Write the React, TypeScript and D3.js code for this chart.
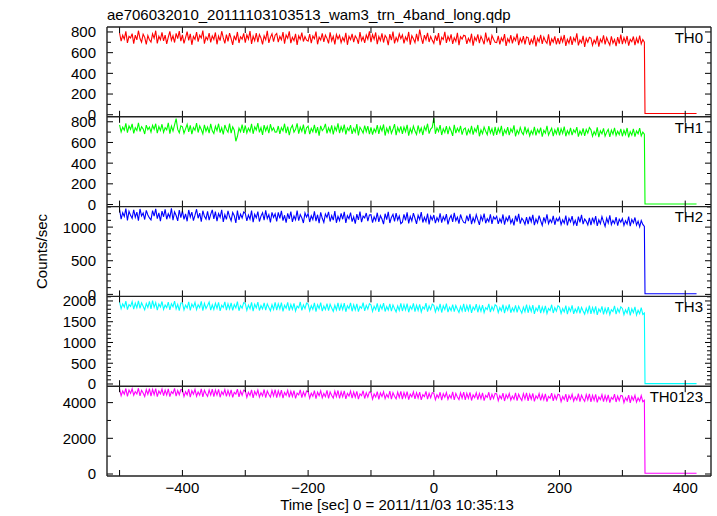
import * as d3 from "d3"

// light-curve bins (s), every 2.5 s from -500 to 335, then the post-drop tail
const binTimes = d3.range(-500, 336, 2.5)
const tailTimes = [336, 418]

const th0 = [
  790, 712, 768, 731, 805, 695, 757, 742, 784, 688, 770, 723, 812, 736, 701, 779, 748, 680, 766, 725,
  703, 781, 739, 812, 690, 758, 725, 796, 714, 770, 684, 749, 805, 720, 763, 698, 787, 736, 808, 711,
  771, 690, 745, 803, 718, 782, 676, 757, 729, 799, 706, 768, 741, 813, 687, 752, 724, 790, 700, 762,
  728, 795, 681, 760, 716, 807, 742, 689, 774, 710, 788, 735, 676, 765, 719, 800, 693, 754, 731, 786,
  697, 772, 730, 808, 684, 759, 715, 790, 702, 776, 741, 680, 763, 724, 811, 695, 748, 783, 706, 769,
  785, 701, 757, 724, 799, 687, 771, 738, 806, 692, 749, 716, 781, 675, 762, 729, 794, 708, 755, 721,
  712, 779, 693, 761, 734, 803, 681, 750, 722, 787, 704, 770, 738, 690, 797, 715, 758, 680, 775, 733,
  768, 697, 746, 712, 792, 676, 758, 725, 781, 701, 763, 738, 686, 799, 717, 752, 694, 771, 730, 806,
  701, 774, 729, 795, 683, 757, 716, 786, 698, 766, 741, 673, 779, 722, 804, 690, 747, 711, 782, 735,
  772, 689, 751, 718, 800, 678, 763, 734, 697, 781, 710, 823, 745, 686, 770, 725, 792, 703, 757, 719,
  690, 766, 713, 789, 672, 748, 727, 801, 695, 758, 718, 776, 684, 745, 709, 792, 673, 754, 731, 768,
  761, 684, 739, 705, 783, 667, 748, 716, 776, 692, 759, 724, 681, 794, 710, 742, 675, 766, 729, 701,
  698, 762, 681, 742, 711, 779, 665, 735, 703, 770, 689, 748, 716, 785, 672, 738, 700, 759, 680, 751,
  746, 674, 729, 693, 767, 660, 738, 705, 772, 684, 751, 712, 690, 776, 668, 733, 702, 758, 679, 741,
  683, 750, 704, 771, 665, 729, 692, 758, 676, 743, 710, 787, 671, 724, 696, 762, 655, 737, 701, 748,
  740, 671, 722, 690, 763, 658, 731, 699, 768, 680, 745, 706, 673, 757, 692, 728, 662, 751, 687, 774,
  682, 745, 698, 761, 667, 729, 705, 756, 673, 740, 690, 766, 684, 727, 701,
]
const th1 = [
  771, 702, 748, 719, 785, 694, 760, 727, 779, 688, 742, 715, 790, 706, 753, 731, 682, 768, 723, 749,
  700, 766, 728, 781, 691, 754, 715, 776, 697, 743, 722, 789, 685, 758, 710, 770, 830, 726, 694, 761,
  752, 689, 731, 776, 703, 765, 680, 744, 718, 787, 696, 759, 725, 683, 771, 709, 748, 690, 779, 713,
  687, 756, 714, 781, 695, 742, 677, 769, 725, 700, 783, 690, 751, 718, 612, 660, 738, 704, 772, 693,
  764, 692, 738, 706, 779, 684, 751, 720, 786, 697, 743, 674, 768, 711, 755, 689, 776, 715, 741, 700,
  701, 759, 683, 744, 712, 781, 690, 753, 671, 738, 766, 699, 727, 784, 686, 749, 708, 772, 680, 741,
  758, 681, 736, 703, 771, 690, 748, 666, 761, 715, 735, 779, 688, 742, 701, 766, 677, 750, 713, 784,
  690, 752, 709, 773, 678, 741, 715, 767, 683, 736, 700, 778, 669, 747, 720, 691, 763, 705, 758, 680,
  745, 676, 731, 700, 768, 683, 752, 712, 774, 667, 738, 696, 761, 688, 727, 778, 671, 744, 703, 756,
  683, 749, 704, 771, 666, 735, 692, 758, 710, 677, 764, 699, 741, 672, 753, 716, 781, 686, 729, 745,
  835, 684, 741, 705, 768, 672, 733, 696, 759, 680, 748, 713, 663, 771, 690, 737, 702, 760, 675, 728,
  740, 668, 727, 692, 761, 675, 735, 703, 769, 660, 722, 685, 748, 709, 676, 757, 690, 733, 666, 750,
  673, 737, 695, 760, 662, 724, 688, 749, 670, 732, 701, 766, 658, 719, 683, 745, 697, 676, 752, 690,
  731, 663, 712, 680, 751, 668, 726, 692, 744, 657, 718, 689, 760, 671, 707, 737, 662, 722, 683, 745,
  668, 733, 687, 754, 660, 715, 680, 741, 670, 722, 695, 748, 656, 711, 676, 737, 663, 726, 690, 745,
  722, 659, 705, 673, 745, 652, 713, 684, 736, 661, 698, 727, 655, 719, 680, 742, 667, 708, 675, 731,
  660, 718, 677, 740, 649, 705, 671, 731, 656, 712, 684, 738, 663, 700, 679,
]
const th2 = [
  1262, 1120, 1214, 1158, 1277, 1101, 1236, 1175, 1130, 1258, 1147, 1223, 1095, 1270, 1166, 1209, 1113, 1248, 1180, 1137,
  1108, 1246, 1162, 1271, 1125, 1213, 1090, 1238, 1154, 1265, 1117, 1199, 1143, 1280, 1102, 1227, 1172, 1093, 1254, 1140,
  1241, 1115, 1196, 1087, 1255, 1150, 1223, 1098, 1178, 1266, 1132, 1209, 1080, 1244, 1161, 1119, 1235, 1104, 1189, 1257,
  1123, 1230, 1089, 1201, 1146, 1258, 1078, 1185, 1114, 1242, 1153, 1095, 1219, 1170, 1062, 1247, 1108, 1193, 1135, 1224,
  1206, 1092, 1179, 1118, 1245, 1075, 1191, 1139, 1230, 1083, 1164, 1215, 1102, 1250, 1127, 1185, 1070, 1220, 1143, 1197,
  1085, 1219, 1130, 1241, 1097, 1176, 1068, 1205, 1123, 1232, 1079, 1166, 1110, 1244, 1095, 1187, 1138, 1061, 1210, 1149,
  1201, 1076, 1168, 1112, 1233, 1090, 1184, 1059, 1219, 1131, 1070, 1195, 1144, 1228, 1083, 1172, 1104, 1238, 1065, 1160,
  1098, 1205, 1117, 1227, 1063, 1170, 1126, 1216, 1081, 1154, 1051, 1193, 1108, 1230, 1074, 1162, 1137, 1210, 1089, 1181,
  1185, 1067, 1153, 1096, 1214, 1079, 1170, 1120, 1045, 1199, 1110, 1226, 1061, 1144, 1189, 1084, 1207, 1103, 1165, 1052,
  1073, 1190, 1101, 1218, 1056, 1159, 1093, 1207, 1132, 1048, 1176, 1114, 1222, 1068, 1146, 1083, 1201, 1041, 1163, 1107,
  1180, 1059, 1141, 1088, 1206, 1066, 1155, 1102, 1193, 1040, 1128, 1174, 1077, 1212, 1095, 1147, 1053, 1188, 1115, 1070,
  1061, 1172, 1090, 1196, 1043, 1139, 1075, 1184, 1107, 1034, 1165, 1097, 1201, 1057, 1126, 1082, 1190, 1049, 1153, 1118,
  1160, 1048, 1124, 1071, 1188, 1038, 1142, 1093, 1175, 1060, 1115, 1027, 1169, 1082, 1197, 1051, 1133, 1099, 1041, 1150,
  1043, 1157, 1080, 1183, 1030, 1121, 1062, 1172, 1095, 1025, 1146, 1074, 1190, 1052, 1113, 1068, 1166, 1035, 1128, 1090,
  1145, 1036, 1109, 1058, 1170, 1024, 1131, 1077, 1162, 1040, 1103, 1018, 1155, 1069, 1182, 1045, 1120, 1086, 1031, 1139,
  1030, 1141, 1064, 1163, 1017, 1108, 1052, 1156, 1079, 1012, 1132, 1060, 1175, 1038, 1100, 1055, 1150, 1021, 1117, 1073,
  1129, 1024, 1096, 1045, 1158, 1014, 1115, 1062, 1143, 1030, 1089, 1005, 1098, 1040, 1010,
]
const th3 = [
  1975, 1815, 1930, 1852, 1998, 1790, 1911, 1868, 1984, 1803, 1946, 1835, 2002, 1822, 1957, 1874, 1786, 1940, 1845, 1990,
  1810, 2010, 1847, 1962, 1779, 1925, 1856, 1987, 1798, 1903, 1840, 1971, 1785, 1934, 1862, 1995, 1808, 1918, 1770, 1950,
  1952, 1786, 1901, 1829, 1980, 1775, 1924, 1850, 1966, 1793, 1912, 1837, 1988, 1768, 1940, 1818, 1893, 1973, 1781, 1909,
  1795, 1946, 1822, 1968, 1760, 1897, 1843, 1979, 1778, 1930, 1809, 1955, 1771, 1915, 1836, 1986, 1764, 1888, 1826, 1960,
  1938, 1775, 1900, 1814, 1965, 1757, 1921, 1833, 1973, 1770, 1889, 1808, 1952, 1782, 1930, 1845, 1762, 1911, 1795, 1969,
  1781, 1933, 1808, 1958, 1750, 1896, 1826, 1964, 1766, 1915, 1797, 1943, 1759, 1878, 1832, 1975, 1771, 1905, 1814, 1947,
  1925, 1762, 1887, 1801, 1952, 1744, 1909, 1818, 1961, 1757, 1876, 1794, 1938, 1769, 1919, 1828, 1748, 1896, 1785, 1955,
  1770, 1921, 1792, 1946, 1740, 1883, 1815, 1953, 1752, 1906, 1784, 1930, 1745, 1868, 1821, 1960, 1759, 1894, 1803, 1937,
  1909, 1750, 1874, 1790, 1942, 1735, 1897, 1806, 1949, 1747, 1864, 1781, 1928, 1757, 1905, 1815, 1738, 1883, 1773, 1944,
  1758, 1907, 1782, 1934, 1728, 1871, 1800, 1940, 1741, 1893, 1770, 1918, 1735, 1856, 1808, 1948, 1745, 1880, 1790, 1925,
  1895, 1738, 1861, 1777, 1929, 1722, 1884, 1793, 1936, 1733, 1850, 1768, 1914, 1744, 1890, 1801, 1725, 1870, 1760, 1930,
  1740, 1891, 1765, 1920, 1712, 1856, 1786, 1925, 1728, 1878, 1755, 1902, 1719, 1840, 1792, 1932, 1731, 1865, 1774, 1909,
  1876, 1722, 1843, 1760, 1911, 1705, 1866, 1776, 1918, 1716, 1833, 1750, 1896, 1727, 1872, 1785, 1708, 1852, 1742, 1913,
  1716, 1869, 1745, 1898, 1690, 1832, 1765, 1903, 1705, 1855, 1734, 1880, 1698, 1818, 1770, 1909, 1710, 1842, 1753, 1886,
  1852, 1698, 1818, 1737, 1888, 1681, 1842, 1751, 1893, 1691, 1806, 1727, 1871, 1703, 1847, 1760, 1684, 1828, 1718, 1890,
  1690, 1840, 1716, 1868, 1663, 1806, 1738, 1872, 1677, 1826, 1707, 1851, 1670, 1790, 1745, 1880, 1683, 1815, 1726, 1858,
  1820, 1668, 1786, 1705, 1855, 1651, 1810, 1720, 1860, 1662, 1775, 1695, 1840, 1675, 1710,
]
const th0123 = [
  4760, 4390, 4650, 4470, 4790, 4350, 4700, 4520, 4775, 4410, 4620, 4485, 4805, 4375, 4690, 4540, 4345, 4730, 4460, 4780,
  4370, 4745, 4450, 4790, 4330, 4650, 4495, 4760, 4385, 4700, 4425, 4775, 4340, 4620, 4510, 4800, 4365, 4680, 4440, 4735,
  4720, 4340, 4610, 4435, 4760, 4310, 4665, 4470, 4745, 4360, 4600, 4415, 4770, 4320, 4690, 4495, 4350, 4710, 4425, 4750,
  4330, 4705, 4420, 4745, 4300, 4615, 4455, 4735, 4345, 4680, 4395, 4720, 4290, 4580, 4475, 4760, 4325, 4650, 4410, 4700,
  4670, 4295, 4580, 4400, 4715, 4270, 4630, 4430, 4700, 4315, 4560, 4375, 4735, 4285, 4650, 4450, 4305, 4680, 4380, 4725,
  4285, 4655, 4375, 4700, 4250, 4570, 4410, 4690, 4300, 4635, 4345, 4675, 4240, 4530, 4430, 4710, 4275, 4600, 4360, 4650,
  4620, 4245, 4530, 4355, 4670, 4225, 4585, 4385, 4655, 4270, 4510, 4330, 4690, 4240, 4600, 4400, 4255, 4635, 4335, 4680,
  4235, 4610, 4325, 4655, 4205, 4520, 4365, 4645, 4255, 4590, 4300, 4630, 4195, 4485, 4385, 4665, 4230, 4555, 4310, 4600,
  4575, 4200, 4480, 4310, 4620, 4180, 4540, 4340, 4605, 4225, 4460, 4285, 4640, 4195, 4555, 4355, 4210, 4590, 4290, 4630,
  4190, 4565, 4285, 4615, 4165, 4475, 4325, 4600, 4215, 4550, 4260, 4590, 4155, 4445, 4340, 4625, 4190, 4515, 4270, 4560,
  4530, 4160, 4440, 4270, 4580, 4140, 4500, 4300, 4565, 4185, 4420, 4245, 4600, 4155, 4515, 4315, 4170, 4550, 4250, 4590,
  4150, 4520, 4240, 4570, 4120, 4430, 4280, 4555, 4170, 4505, 4215, 4545, 4110, 4400, 4295, 4580, 4145, 4470, 4225, 4515,
  4485, 4110, 4390, 4220, 4530, 4090, 4450, 4250, 4515, 4135, 4370, 4195, 4550, 4105, 4465, 4265, 4120, 4500, 4200, 4540,
  4100, 4470, 4190, 4520, 4070, 4380, 4230, 4505, 4120, 4455, 4165, 4495, 4060, 4350, 4245, 4530, 4095, 4420, 4175, 4465,
  4435, 4060, 4340, 4170, 4480, 4040, 4400, 4200, 4465, 4085, 4320, 4145, 4500, 4055, 4415, 4215, 4070, 4450, 4150, 4490,
  4040, 4410, 4130, 4460, 4010, 4320, 4170, 4445, 4060, 4395, 4105, 4435, 4000, 4290, 4185, 4470, 4035, 4360, 4115, 4405,
  4375, 4000, 4280, 4110, 4420, 3980, 4340, 4140, 4405, 4025, 4260, 4085, 4390, 4050, 4130,
]

const bandNames = ["TH0", "TH1", "TH2", "TH3", "TH0123"]
const bandColors = ["#ff0000", "#00ff00", "#0000ff", "#00ffff", "#ff00ff"]
const bandTails = [12, 5, 10, 8, 40]
const bandDomains: [number, number][] = [[-20, 848], [-20, 848], [-30, 1305], [-53, 2110], [-112, 4920]]
const bandTicks = [
  [0, 200, 400, 600, 800],
  [0, 200, 400, 600, 800],
  [0, 500, 1000],
  [0, 500, 1000, 1500, 2000],
  [0, 2000, 4000],
]
const bandMinorStep = [100, 100, 100, 100, 1000]
const xTicks = [-400, -200, 0, 200, 400]
const xMinorTicks = [-500, -300, -100, 100, 300]

const W = 717
const H = 516
const left = 107
const right = 711
const top = 27
const bottom = 476
const FONT = "'Liberation Sans', Arial, Helvetica, sans-serif"

export default function App() {
  const series = [th0, th1, th2, th3, th0123]
  const panelH = (bottom - top) / series.length
  const x = d3.scaleLinear().domain([-520, 441]).range([left, right])
  const fmt = (v: number) => (v < 0 ? "\u2212" + Math.abs(v) : String(v))

  return (
    <svg width={W} height={H} style={{ position: "absolute", left: 0, top: 0, background: "#fff" }} fontFamily={FONT}>
      <text x={left} y={20} fontSize={15} fill="#000">
        ae706032010_20111103103513_wam3_trn_4band_long.qdp
      </text>

      {series.map((vals, k) => {
        const y0 = top + k * panelH
        const y1 = y0 + panelH
        const y = d3.scaleLinear().domain(bandDomains[k]).range([y1, y0])
        const pts: [number, number][] = vals
          .slice(0, binTimes.length)
          .map((v, i) => [binTimes[i], v])
        const tail: [number, number][] = tailTimes.map((t) => [t, bandTails[k]])
        const line = d3
          .line<[number, number]>()
          .defined((d) => d[1] != null)
          .x((d) => x(d[0]))
          .y((d) => y(d[1]))
        const minor = d3
          .range(0, bandDomains[k][1], bandMinorStep[k])
          .filter((v) => !bandTicks[k].includes(v))
        return (
          <g key={k}>
            <path d={line([...pts, ...tail]) ?? ""} fill="none" stroke={bandColors[k]} strokeWidth={1.1} />
            {bandTicks[k].map((v) => (
              <g key={"m" + v}>
                <line x1={left} x2={left + 6} y1={y(v)} y2={y(v)} stroke="#000" />
                <line x1={right} x2={right - 6} y1={y(v)} y2={y(v)} stroke="#000" />
                <text x={96} y={y(v)} dy="0.36em" textAnchor="end" fontSize={15} fill="#000">
                  {v}
                </text>
              </g>
            ))}
            {minor.map((v) => (
              <g key={"n" + v}>
                <line x1={left} x2={left + 4} y1={y(v)} y2={y(v)} stroke="#000" />
                <line x1={right} x2={right - 4} y1={y(v)} y2={y(v)} stroke="#000" />
              </g>
            ))}
            {[...xTicks, ...xMinorTicks].map((t) => (
              <g key={"x" + t}>
                <line x1={x(t)} x2={x(t)} y1={y0} y2={y0 + 6} stroke="#000" />
                <line x1={x(t)} x2={x(t)} y1={y1} y2={y1 - 6} stroke="#000" />
              </g>
            ))}
            <line x1={left} x2={right} y1={y0} y2={y0} stroke="#222" strokeWidth={1.4} />
            <text x={703} y={y0 + 15.7} textAnchor="end" fontSize={15} fill="#000">
              {bandNames[k]}
            </text>
          </g>
        )
      })}

      <line x1={left} x2={right} y1={bottom} y2={bottom} stroke="#222" strokeWidth={1.4} />
      <line x1={left} x2={left} y1={top} y2={bottom} stroke="#222" strokeWidth={1.4} />
      <line x1={right} x2={right} y1={top} y2={bottom} stroke="#222" strokeWidth={1.4} />

      {xTicks.map((t) => (
        <text key={t} x={x(t)} y={493} textAnchor="middle" fontSize={15} fill="#000">
          {fmt(t)}
        </text>
      ))}
      <text x={397} y={510} textAnchor="middle" fontSize={15} fill="#000">
        Time [sec] 0 = 2011/11/03 10:35:13
      </text>
      <text transform={`translate(47,${(top + bottom) / 2}) rotate(-90)`} textAnchor="middle" fontSize={15} fill="#000">
        Counts/sec
      </text>
    </svg>
  )
}
